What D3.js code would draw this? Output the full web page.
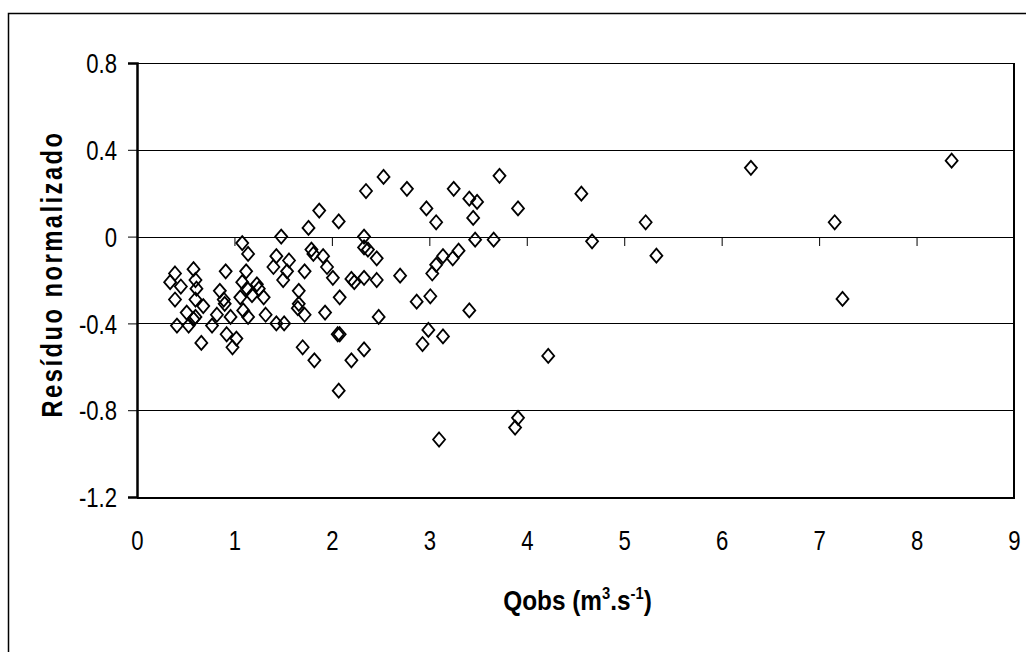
<!DOCTYPE html>
<html lang="pt">
<head>
<meta charset="utf-8">
<title>Resíduo normalizado</title>
<style>
  body { margin: 0; background: #fff; }
  svg { display: block; }
  .tick text { font-family: "Liberation Sans", Arial, sans-serif; font-size: 27px; fill: #000; }
  .title { font-family: "Liberation Sans", Arial, sans-serif; font-weight: bold; fill: #000; }
</style>
</head>
<body>
<div id="chart"></div>
<script src="https://d3js.org/d3.v7.min.js"></script>
<script>
// Observed discharge (m3/s)
var qobs = [
  1.08, 1.14, 0.39, 0.58, 0.91, 1.12, 0.34, 0.45, 0.60, 0.61,
  0.85, 1.08, 1.13, 1.23, 1.25, 0.39, 0.60, 0.68, 0.89, 0.90,
  1.06, 1.18, 1.30, 0.51, 0.60, 0.82, 0.96, 1.09, 1.14, 1.32,
  0.41, 0.53, 0.58, 0.77, 0.66, 0.92, 1.02, 0.98,
  2.35, 1.87, 1.76, 2.07, 1.48, 2.33, 1.43, 1.56, 1.79, 1.81,
  1.91, 2.33, 2.37, 2.46, 1.40, 1.54, 1.72, 1.95, 1.50, 2.01,
  2.20, 2.23, 2.33, 2.46, 1.66, 2.08, 1.66, 1.65, 1.72, 1.43,
  1.51, 1.93, 2.48, 2.06, 2.08, 1.70, 1.82, 2.20, 2.33, 2.07,
  2.53, 2.77, 3.25, 3.72, 3.41, 3.49, 3.91, 2.97, 3.07, 3.45,
  3.47, 3.66, 3.14, 3.30, 3.24, 3.07, 3.03, 2.70, 2.87, 3.01,
  3.41, 2.99, 3.14, 2.93, 3.10, 3.91, 3.88,
  8.36, 6.30, 4.56, 5.22, 7.16, 4.67, 5.33, 7.24, 4.22
];

// Normalized residual
var residuo = [
  -0.03, -0.08, -0.17, -0.15, -0.16, -0.16, -0.21, -0.23, -0.20, -0.24,
  -0.25, -0.21, -0.24, -0.22, -0.24, -0.29, -0.29, -0.32, -0.29, -0.31,
  -0.28, -0.27, -0.28, -0.35, -0.37, -0.36, -0.37, -0.34, -0.37, -0.36,
  -0.41, -0.41, -0.38, -0.41, -0.49, -0.45, -0.47, -0.51,
  0.21, 0.12, 0.04, 0.07, 0.00, 0.00, -0.09, -0.11, -0.06, -0.08,
  -0.09, -0.05, -0.06, -0.10, -0.14, -0.16, -0.16, -0.14, -0.20, -0.19,
  -0.195, -0.21, -0.19, -0.20, -0.25, -0.28, -0.31, -0.33, -0.36, -0.40,
  -0.40, -0.35, -0.37, -0.45, -0.45, -0.51, -0.57, -0.57, -0.52, -0.71,
  0.275, 0.22, 0.22, 0.28, 0.175, 0.16, 0.13, 0.13, 0.066, 0.086,
  -0.014, -0.014, -0.09, -0.065, -0.10, -0.13, -0.17, -0.18, -0.30, -0.275,
  -0.34, -0.43, -0.46, -0.495, -0.935, -0.835, -0.88,
  0.35, 0.317, 0.198, 0.066, 0.066, -0.022, -0.088, -0.287, -0.55
];

var xTicks = [0, 1, 2, 3, 4, 5, 6, 7, 8, 9];
var yTicks = [0.8, 0.4, 0, -0.4, -0.8, -1.2];

var W = 1026, H = 652;
var margin = { top: 63, right: 12, bottom: 155, left: 137 };
var width = W - margin.left - margin.right,
    height = H - margin.top - margin.bottom;
var narrow = 0.82; // the original uses a condensed face

var svg = d3.select("#chart").append("svg")
  .attr("width", W)
  .attr("height", H);

// outer chart border (right and bottom fall outside the picture)
svg.append("rect")
  .attr("x", 8.5).attr("y", 13.5)
  .attr("width", W + 20).attr("height", H + 20)
  .attr("fill", "none").attr("stroke", "#000").attr("stroke-width", 1.5);

var g = svg.append("g")
  .attr("transform", `translate(${margin.left},${margin.top})`);

var x = d3.scaleLinear().domain([0, 9]).range([0, width]);
var y = d3.scaleLinear().domain([-1.2, 0.8]).range([height, 0]);

// horizontal gridlines
g.append("g")
  .selectAll("line")
  .data(yTicks)
  .join("line")
  .attr("x1", 0).attr("x2", width)
  .attr("y1", d => Math.round(y(d)) + 0.5)
  .attr("y2", d => Math.round(y(d)) + 0.5)
  .attr("stroke", "#000").attr("stroke-width", 1);

// plot area frame: right and bottom edges
g.append("line")
  .attr("x1", width).attr("x2", width).attr("y1", 0).attr("y2", height + 1)
  .attr("stroke", "#000").attr("stroke-width", 2);
g.append("line")
  .attr("x1", 0).attr("x2", width + 1).attr("y1", height + 1).attr("y2", height + 1)
  .attr("stroke", "#000").attr("stroke-width", 2);

// Y axis (plain hyphen for negatives, like the original)
var yFmt = d => d === 0 ? "0" : d.toFixed(1);
var yAxis = g.append("g")
  .call(d3.axisLeft(y).tickValues(yTicks).tickSize(9).tickPadding(11).tickFormat(yFmt));
yAxis.select(".domain").attr("stroke-width", 2.5);
yAxis.selectAll("line").attr("stroke", "#000");
yAxis.selectAll("text")
  .attr("dy", "0.36em")
  .attr("x", -20 / narrow)
  .attr("transform", `scale(${narrow},1)`);

// X ticks on the zero line
var xAxis = g.append("g")
  .attr("transform", `translate(0,${Math.round(y(0))})`)
  .call(d3.axisBottom(x).tickValues(xTicks).tickSize(9).tickFormat(""));
xAxis.select(".domain").remove();
xAxis.selectAll("line").attr("stroke", "#000");

// X labels below the plot area
var xLabels = g.append("g")
  .attr("transform", `translate(0,${height})`)
  .call(d3.axisBottom(x).tickValues(xTicks).tickSize(0).tickPadding(34)
    .tickFormat(d3.format("d")));
xLabels.select(".domain").remove();
xLabels.selectAll("text").attr("transform", `scale(${narrow},1)`);

// diamond markers, no fill
var diamond = function (cx, cy) {
  var p = d3.path();
  p.moveTo(cx, cy - 7);
  p.lineTo(cx + 6, cy);
  p.lineTo(cx, cy + 7);
  p.lineTo(cx - 6, cy);
  p.closePath();
  return p.toString();
};

g.append("g")
  .selectAll("path")
  .data(d3.range(qobs.length))
  .join("path")
  .attr("d", i => diamond(x(qobs[i]), y(residuo[i])))
  .attr("fill", "none")
  .attr("stroke", "#000")
  .attr("stroke-width", 1.8);

// axis titles
svg.append("text")
  .attr("class", "title")
  .attr("transform", `translate(62,${margin.top + height / 2 - 6}) rotate(-90) scale(${narrow},1)`)
  .attr("text-anchor", "middle")
  .style("font-size", "29px")
  .style("letter-spacing", "3px")
  .text("Resíduo normalizado");

var xt = svg.append("text")
  .attr("class", "title")
  .attr("transform", `translate(${margin.left + width / 2 + 2},610) scale(0.87,1)`)
  .attr("text-anchor", "middle")
  .style("font-size", "28px");
xt.append("tspan").text("Qobs (m");
xt.append("tspan").attr("dy", -11).style("font-size", "17px").text("3");
xt.append("tspan").attr("dy", 11).text(".s");
xt.append("tspan").attr("dy", -11).style("font-size", "17px").text("-1");
xt.append("tspan").attr("dy", 11).text(")");
</script>
</body>
</html>
